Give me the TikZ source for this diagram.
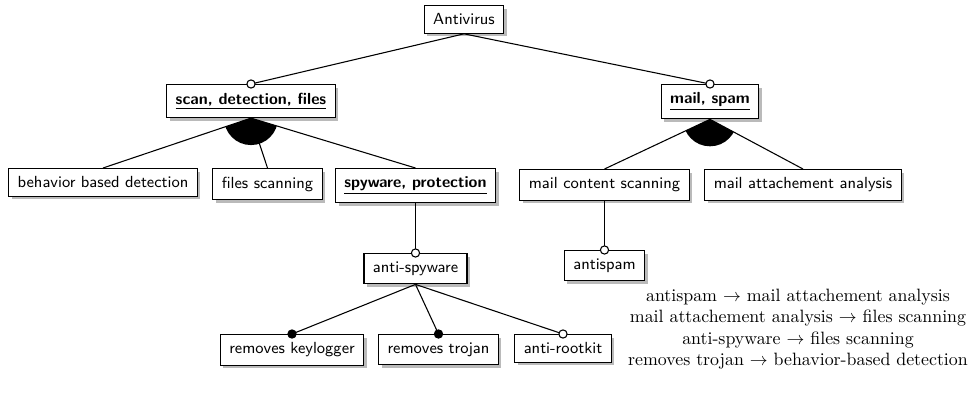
\documentclass[tikz,border=0pt]{standalone}
\usetikzlibrary{calc,shadows}
\begin{document}
\begin{tikzpicture}[x=0.56pt,y=-0.56pt,
  feat/.style={draw, fill=white, font=\sffamily\small, inner xsep=5pt, inner ysep=4.6pt, anchor=north, line width=0.6pt,
    drop shadow={shadow xshift=1.7pt, shadow yshift=-1.7pt, fill=black!27, opacity=1}},
  link/.style={line width=0.6pt},
  opt/.style={draw, fill=white, line width=0.6pt},
  mand/.style={draw, fill=black, line width=0.6pt},
  constr/.style={align=center, font=\normalsize}]
\useasboundingbox (0,0) rectangle (975,397);
% nodes
\node[feat] (av) at (464,5) {Antivirus};
\node[feat] (scan) at (251,84) {\underline{\textbf{scan, detection, files}}};
\node[feat] (mail) at (710,84) {\underline{\textbf{mail, spam}}};
\node[feat] (beh) at (103,168) {behavior based detection};
\node[feat] (fs) at (267.5,168) {files scanning};
\node[feat] (spy) at (415.5,168) {\underline{\textbf{spyware, protection}}};
\node[feat] (mcs) at (604.5,169) {mail content scanning};
\node[feat] (maa) at (803,169) {mail attachement analysis};
\node[feat] (asp) at (604.5,250) {antispam};
\node[feat] (asw) at (415.5,253) {anti-spyware};
\node[feat] (kl) at (292,334) {removes keylogger};
\node[feat] (tr) at (438.5,334) {removes trojan};
\node[feat] (rk) at (563,334) {anti-rootkit};
% alternative groups (filled sectors)
\begin{scope}
  \clip (scan.south) -- ($(scan.south)!3!(beh.north)$) -- ($(scan.south)!3!(spy.north)$) -- cycle;
  \fill (scan.south) circle [radius=15.1pt];
\end{scope}
\begin{scope}
  \clip (mail.south) -- ($(mail.south)!3!(mcs.north)$) -- ($(mail.south)!3!(maa.north)$) -- cycle;
  \fill (mail.south) circle [radius=15.1pt];
\end{scope}
% edges
\draw[link] (av.south) -- (scan.north);
\draw[link] (av.south) -- (mail.north);
\draw[link] (scan.south) -- (beh.north);
\draw[link] (scan.south) -- (fs.north);
\draw[link] (scan.south) -- (spy.north);
\draw[link] (mail.south) -- (mcs.north);
\draw[link] (mail.south) -- (maa.north);
\draw[link] (spy.south) -- (asw.north);
\draw[link] (mcs.south) -- (asp.north);
\draw[link] (asw.south) -- (kl.north);
\draw[link] (asw.south) -- (tr.north);
\draw[link] (asw.south) -- (rk.north);
% decorations
\draw[opt] (scan.north) circle [radius=2.3pt];
\draw[opt] (mail.north) circle [radius=2.3pt];
\draw[opt] (asw.north) circle [radius=2.3pt];
\draw[opt] (asp.north) circle [radius=2.3pt];
\draw[mand] (kl.north) circle [radius=2.3pt];
\draw[mand] (tr.north) circle [radius=2.3pt];
\draw[opt] (rk.north) circle [radius=2.3pt];
% constraints
\node[constr] (cons) at (798,329) {antispam $\rightarrow$ mail attachement analysis\\
mail attachement analysis $\rightarrow$ files scanning\\
anti-spyware $\rightarrow$ files scanning\\
removes trojan $\rightarrow$ behavior-based detection};
\end{tikzpicture}
\end{document}
